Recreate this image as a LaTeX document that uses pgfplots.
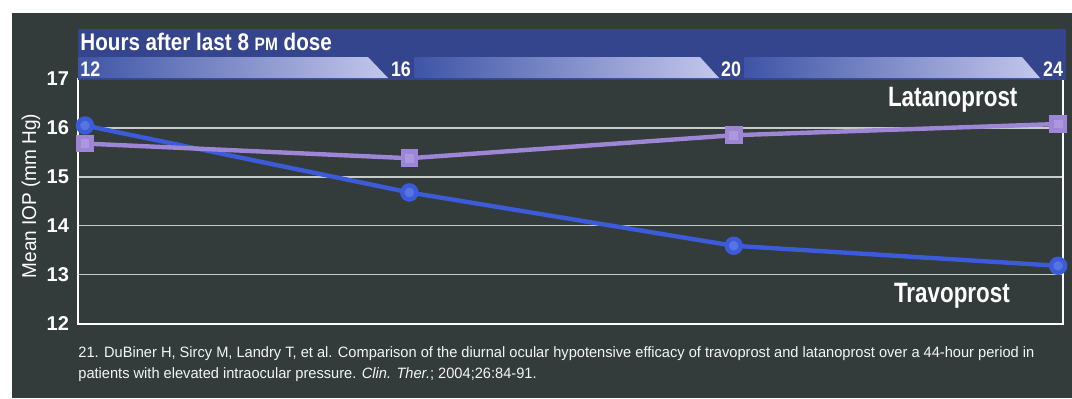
\documentclass[border=0pt]{standalone}
\usepackage{pgfplots}
\pgfplotsset{compat=1.18}
\usepackage{fontspec}
\setmainfont{Liberation Sans}
\usetikzlibrary{shadings}
\definecolor{bgdark}{HTML}{333C3A}
\definecolor{banner}{HTML}{34458E}
\definecolor{bandL}{HTML}{3E54A6}
\definecolor{bandR}{HTML}{C3C7EC}
\definecolor{travo}{HTML}{3B5BD9}
\definecolor{latano}{HTML}{9D86D6}
\definecolor{gridc}{HTML}{C8CCC8}
\pgfplotstableread{
x y
12 16.05
16 14.68
20 13.59
24 13.18
}\travo
\pgfplotstableread{
x y
12 15.68
16 15.38
20 15.85
24 16.08
}\latano
\begin{document}
\begin{tikzpicture}
\begin{scope}[x=0.5pt,y=-0.5pt]
\useasboundingbox (0,0) rectangle (1072,398);
\fill[white] (0,0) rectangle (1072,398);
\fill[bgdark] (12,13) rectangle (1072,398);
\node[white, rotate=90, font=\fontsize{10}{12}\selectfont] at (31,196) {\scalebox{0.95}[1]{Mean IOP (mm Hg)}};
\node[white!92!gray, anchor=base west, font=\fontsize{7.5}{8}\selectfont, inner sep=0pt] at (78,357) {\scalebox{0.975}[1]{21. DuBiner H, Sircy M, Landry T, et al. Comparison of the diurnal ocular hypotensive efficacy of travoprost and latanoprost over a 44-hour period in}};
\node[white!92!gray, anchor=base west, font=\fontsize{7.5}{8}\selectfont, inner sep=0pt] at (78,378) {\scalebox{0.975}[1]{patients with elevated intraocular pressure. \textit{Clin. Ther.}; 2004;26:84-91.}};
\end{scope}
\begin{axis}[
  at={(39pt,-161.75pt)}, anchor=south west,
  scale only axis, width=492.5pt, height=122.25pt,
  xmin=11.914, xmax=24.06, ymin=12, ymax=17,
  xtick=\empty,
  ytick={13,14,15,16},
  extra y ticks={12,17},
  extra y tick style={grid=none},
  ymajorgrids,
  grid style={gridc, line width=0.7pt},
  major tick length=0pt,
  axis line style={white, line width=1pt},
  yticklabel style={white, font=\fontsize{10}{12}\selectfont\bfseries, /pgf/number format/assume math mode=true, xshift=-1pt},
  clip=false,
]
\addplot[travo, line width=2.2pt, mark=*, mark size=3.5pt, mark options={fill=travo!85!white, draw=travo}] table[x=x,y=y] {\travo};
\addplot[latano, line width=2.2pt, mark=square*, mark size=3.3pt, mark options={fill=latano!85!white, draw=latano}] table[x=x,y=y] {\latano};
\node[white, font=\fontsize{14}{16}\selectfont\bfseries] at (axis cs:22.7,16.57) {\scalebox{0.8}[1]{Latanoprost}};
\node[white, font=\fontsize{14}{16}\selectfont\bfseries] at (axis cs:22.69,12.56) {\scalebox{0.8}[1]{Travoprost}};
\end{axis}
\begin{scope}[x=0.5pt,y=-0.5pt]
\fill[banner] (78,29) rectangle (1066,80);
\shade[left color=bandL, right color=bandR] (78,57) -- (368,57) -- (388,78) -- (78,78) -- cycle;
\shade[left color=bandL, right color=bandR] (414,57) -- (700,57) -- (719,78) -- (414,78) -- cycle;
\shade[left color=bandL, right color=bandR] (744,57) -- (1022,57) -- (1040,78) -- (744,78) -- cycle;
\node[white, anchor=base west, font=\fontsize{12}{14}\selectfont\bfseries, inner sep=0pt] at (80,50) {\scalebox{0.86}[1]{Hours after last 8 {\fontsize{9}{10}\selectfont PM} dose}};
\node[white, anchor=base west, font=\fontsize{10.5}{12}\selectfont\bfseries, inner sep=0pt] at (80,76) {\scalebox{0.85}[1]{12}};
\node[white, anchor=base, font=\fontsize{10.5}{12}\selectfont\bfseries, inner sep=0pt] at (401,76) {\scalebox{0.85}[1]{16}};
\node[white, anchor=base, font=\fontsize{10.5}{12}\selectfont\bfseries, inner sep=0pt] at (731,76) {\scalebox{0.85}[1]{20}};
\node[white, anchor=base, font=\fontsize{10.5}{12}\selectfont\bfseries, inner sep=0pt] at (1053,76) {\scalebox{0.85}[1]{24}};
\end{scope}
\end{tikzpicture}
\end{document}
